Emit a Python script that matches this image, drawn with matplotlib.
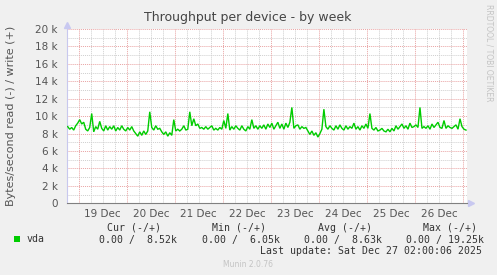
import numpy as np
import matplotlib
matplotlib.use("Agg")
import matplotlib.pyplot as plt
from matplotlib.ticker import FixedLocator, FuncFormatter

# ---------------- data (hourly samples, k bytes/s, write side) ----------------
write_k = [
    8.8, 8.5, 8.7, 8.4, 8.9,
    9.2, 9.6, 9.1, 9.3,
    8.5, 8.3, 8.7,
    10.3,
    8.2, 8.8, 8.5, 9.4,
    8.6, 8.3, 8.9, 8.4, 8.8, 8.5, 8.9, 8.3, 8.7, 8.4, 8.9, 8.5, 8.3,
    8.7, 8.4, 8.8, 8.3,
    8.0, 7.7, 8.2, 7.8, 8.3, 7.9, 8.3,
    10.5,
    8.7, 8.4, 8.9, 8.5, 8.6,
    8.2, 7.9, 8.2, 7.7, 8.1, 7.8,
    9.6,
    8.3, 8.5, 8.3, 8.5, 8.9, 8.4, 8.5,
    10.5,
    8.9, 9.7, 8.9, 9.1, 8.6,
    8.7, 8.5, 8.8, 8.5, 8.7, 8.9, 8.4, 8.6, 8.4, 8.7, 8.5, 9.5, 8.6,
    10.3,
    8.4, 8.8, 8.5, 8.9, 8.6, 8.4, 8.9, 8.5, 8.3, 8.8, 8.5,
    9.6,
    8.6, 8.9, 8.5, 8.9, 8.6, 9.0, 8.5, 9.1, 8.7, 9.2, 8.5,
    8.9, 9.3, 8.6, 9.1, 8.5, 9.2, 8.7, 9.3,
    11.0,
    8.6, 8.9, 9.0, 8.5, 8.8, 8.6, 8.7,
    8.3, 7.9, 8.3, 7.8, 8.1, 7.6, 8.0, 8.5,
    10.8,
    8.8, 8.5, 8.9, 8.6, 8.4, 8.9, 8.5, 9.0, 8.6, 8.4, 8.9, 8.5, 8.8, 8.6,
    9.2, 8.5, 8.8, 8.4, 8.9, 8.6, 9.1, 8.6,
    10.3,
    8.6, 8.4, 8.7, 8.3, 8.4, 8.6, 8.3, 8.2, 8.5, 8.2, 8.6, 8.3, 8.9, 8.5,
    8.8, 9.1, 8.6, 8.9, 8.5, 9.2, 8.7, 8.8, 9.0, 8.7,
    11.0,
    8.6, 8.8, 8.6, 8.9, 8.5, 9.1, 8.7, 9.0, 9.3, 8.7, 8.6, 9.5, 8.6, 8.9,
    8.7, 8.6, 8.8, 9.0, 8.5, 9.7, 8.8, 8.5, 8.4,
]
day_labels = ["19 Dec", "20 Dec", "21 Dec", "22 Dec", "23 Dec", "24 Dec", "25 Dec", "26 Dec"]
y_ticks_k = [0, 2, 4, 6, 8, 10, 12, 14, 16, 18, 20]
legend_name = "vda"
stat_headers = ["Cur (-/+)", "Min (-/+)", "Avg (-/+)", "Max (-/+)"]
stat_values = ["0.00 /  8.52k", "0.00 /  6.05k", "0.00 /  8.63k", "0.00 / 19.25k"]
title = "Throughput per device - by week"
ylabel = "Bytes/second read (-) / write (+)"
last_update = "Last update: Sat Dec 27 02:00:06 2025"
footer = "Munin 2.0.76"
side_text = "RRDTOOL / TOBI OETIKER"

# ---------------- figure ----------------
W, H = 497, 275
BG = "#F0F0F0"
GREEN = "#00CC00"
fig = plt.figure(figsize=(W / 100, H / 100), dpi=100, facecolor=BG)

x0, x1 = 66.7, 467.0
ytop, ybot = 29.0, 203.3
ax = fig.add_axes([x0 / W, 1 - ybot / H, (x1 - x0) / W, (ybot - ytop) / H])
ax.set_facecolor("white")

# time axis: hours since Dec 18 18:00 (window 200 h)
hours = np.arange(len(write_k)) + 0.5
values = np.array(write_k) * 1000.0
ax.plot(hours, values, color=GREEN, lw=1.0, solid_joinstyle="miter", zorder=3)

ax.set_xlim(0, 200)
ax.set_ylim(0, 20000)

# grids
dot = (0, (1, 1))
minor_col = "#CFCFCF"
major_col = "#E9A3A3"
for h in range(0, 201, 6):
    if (h - 6) % 24 == 0:
        continue
    ax.axvline(h, color=minor_col, lw=0.7, ls=dot, zorder=1)
for h in range(6, 201, 24):
    ax.axvline(h, color=major_col, lw=0.7, ls=dot, zorder=1.5)
for v in range(1000, 20001, 1000):
    if v % 2000 == 0:
        ax.axhline(v, color=major_col, lw=0.7, ls=dot, zorder=1.5)
    else:
        ax.axhline(v, color=minor_col, lw=0.7, ls=dot, zorder=1)

# ticks
ax.yaxis.set_major_locator(FixedLocator([k * 1000 for k in y_ticks_k]))
ax.yaxis.set_major_formatter(FuncFormatter(lambda v, p: "0" if v == 0 else f"{int(v/1000)} k"))
label_pos = [18 + 24 * i for i in range(len(day_labels))]
ax.set_xticks(label_pos)
ax.set_xticklabels(day_labels)
ax.tick_params(axis="both", length=0, labelsize=7.5, labelcolor="#555555")
ax.tick_params(axis="y", pad=6.5)
ax.tick_params(axis="x", pad=4)

for s in ["top", "right"]:
    ax.spines[s].set_visible(False)
ax.spines["left"].set_color("#C8C8EE")
ax.spines["left"].set_linewidth(0.8)
ax.spines["bottom"].set_color("#808080")
ax.spines["bottom"].set_linewidth(0.8)

# axis arrows
ax.plot([0], [1.025], marker="^", color="#C8C8F0", ms=4, transform=ax.transAxes, clip_on=False)
ax.plot([1.01], [0], marker=">", color="#C8C8F0", ms=4, transform=ax.transAxes, clip_on=False)

# texts
fig.text(248 / W, 1 - 18 / H, title, ha="center", va="center", fontsize=9, color="#444444")
fig.text(11 / W, 1 - 116 / H, ylabel, ha="center", va="center", rotation=90, fontsize=8, color="#555555")
fig.text(489 / W, 1 - 53 / H, side_text, ha="center", va="center", rotation=270, fontsize=5.5, color="#C4C4C4")

mono = "DejaVu Sans Mono"
fs = 7.1
fig.patches.append(plt.Rectangle((14 / W, 1 - 242 / H), 6 / W, 6 / H, transform=fig.transFigure,
                                 facecolor=GREEN, edgecolor="none"))
fig.text(27 / W, 1 - 239.5 / H, legend_name, ha="left", va="center", family=mono, fontsize=fs, color="#333333")
head_x = [107, 212, 318, 423]
val_x = [99, 202, 304, 406]
for hx, t in zip(head_x, stat_headers):
    fig.text(hx / W, 1 - 227.7 / H, t, ha="left", va="center", family=mono, fontsize=fs, color="#333333")
for vx, t in zip(val_x, stat_values):
    fig.text(vx / W, 1 - 239.5 / H, t, ha="left", va="center", family=mono, fontsize=fs, color="#333333")
fig.text(482 / W, 1 - 251.5 / H, last_update, ha="right", va="center", family=mono, fontsize=fs, color="#333333")
fig.text(248 / W, 1 - 264.5 / H, footer, ha="center", va="center", fontsize=5.5, color="#C4C4C4")

fig.savefig("out.png", dpi=100, facecolor=BG)
